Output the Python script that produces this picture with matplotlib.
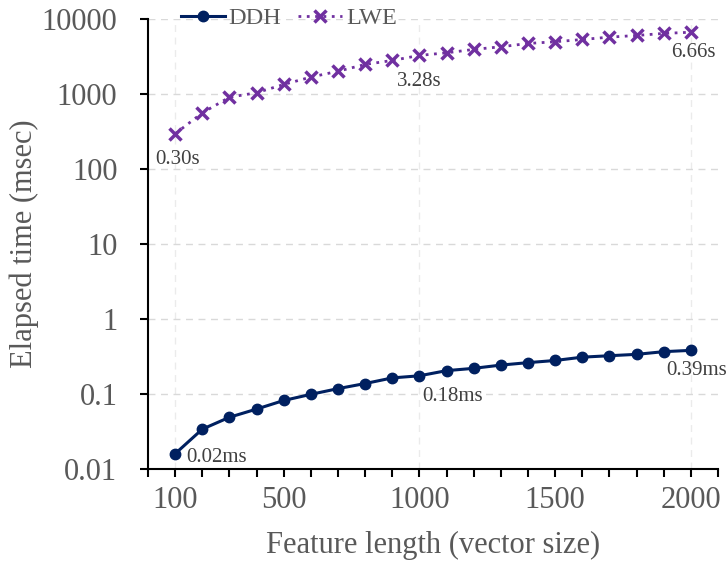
import matplotlib
matplotlib.use("Agg")
import matplotlib.pyplot as plt
from matplotlib.ticker import FixedLocator, NullLocator, FixedFormatter

plt.rcParams['font.family'] = ['Liberation Serif', 'DejaVu Serif']

x = [100, 200, 300, 400, 500, 600, 700, 800, 900, 1000,
     1100, 1200, 1300, 1400, 1500, 1600, 1700, 1800, 1900, 2000]
ddh = [0.016, 0.034, 0.049, 0.063, 0.082, 0.099, 0.118, 0.138, 0.164, 0.175,
       0.205, 0.22, 0.243, 0.262, 0.28, 0.31, 0.324, 0.338, 0.367, 0.382]
lwe = [295, 560, 905, 1040, 1340, 1680, 2010, 2480, 2800, 3270,
       3540, 3930, 4260, 4720, 4970, 5330, 5730, 6030, 6420, 6660]

x_major = [100, 500, 1000, 1500, 2000]
x_grid = [100, 1000, 2000]
y_ticks = [0.01, 0.1, 1, 10, 100, 1000, 10000]
y_labels = ["0.01", "0.1", "1", "10", "100", "1000", "10000"]

annots = [
    ("DDH", 0, "0.02ms", (8, -3), "left", "center"),
    ("DDH", 9, "0.18ms", (2, -8), "left", "top"),
    ("DDH", 19, "0.39ms", (4, -8), "center", "top"),
    ("LWE", 0, "0.30s", (2, -12), "center", "top"),
    ("LWE", 9, "3.28s", (0, -12), "center", "top"),
    ("LWE", 19, "6.66s", (2, -8), "center", "top"),
]

gray = "#595959"
navy = "#002060"
purple = "#7030A0"

fig = plt.figure(figsize=(7.27, 5.67), dpi=100)
ax = fig.add_axes([0.2036, 0.1728, 0.784, 0.7937])

ax.plot(x, ddh, color=navy, lw=2.2, marker='o', ms=7.5, label="DDH", zorder=3)
ax.plot(x, lwe, color=purple, lw=2.0, ls=(0, (1, 2)), marker='x', ms=8,
        mew=2.5, label="LWE", zorder=3)

ax.set_yscale('log')
ax.set_ylim(0.01, 10000)
ax.set_xlim(0, 2100)

ax.yaxis.set_major_locator(FixedLocator(y_ticks))
ax.yaxis.set_major_formatter(FixedFormatter(y_labels))
ax.yaxis.set_minor_locator(NullLocator())
ax.xaxis.set_major_locator(FixedLocator(x_major))
ax.xaxis.set_minor_locator(FixedLocator([v for v in range(0, 2101, 100) if v not in x_major]))

ax.tick_params(axis='both', which='both', direction='out', length=6, width=1.5,
               colors='black', labelcolor=gray, labelsize=22)
ax.tick_params(axis='x', pad=6)
ax.tick_params(axis='y', pad=16)

for s in ['top', 'right']:
    ax.spines[s].set_visible(False)
for s in ['left', 'bottom']:
    ax.spines[s].set_linewidth(1.5)

ax.yaxis.grid(True, which='major', color='#d9d9d9', ls=(0, (5, 4)), lw=1.0)
for gx in x_grid:
    ax.axvline(gx, color='#ebebeb', ls=(0, (5, 4)), lw=1.0, zorder=0)
ax.set_axisbelow(True)

ax.set_xlabel("Feature length (vector size)", fontsize=22, color=gray, labelpad=12)
ax.set_ylabel("Elapsed time (msec)", fontsize=22, color=gray, labelpad=2)

series = {"DDH": ddh, "LWE": lwe}
for name, i, txt, off, ha, va in annots:
    ax.annotate(txt, (x[i], series[name][i]), xytext=off, textcoords='offset points',
                ha=ha, va=va, fontsize=15, color="#404040")

leg = ax.legend(loc='upper left', bbox_to_anchor=(0.02, 1.075), ncol=2, frameon=False,
                fontsize=17.5, handlelength=1.8, columnspacing=0.7, handletextpad=0.15)
for t in leg.get_texts():
    t.set_color(gray)

fig.savefig("out.png", dpi=100)
